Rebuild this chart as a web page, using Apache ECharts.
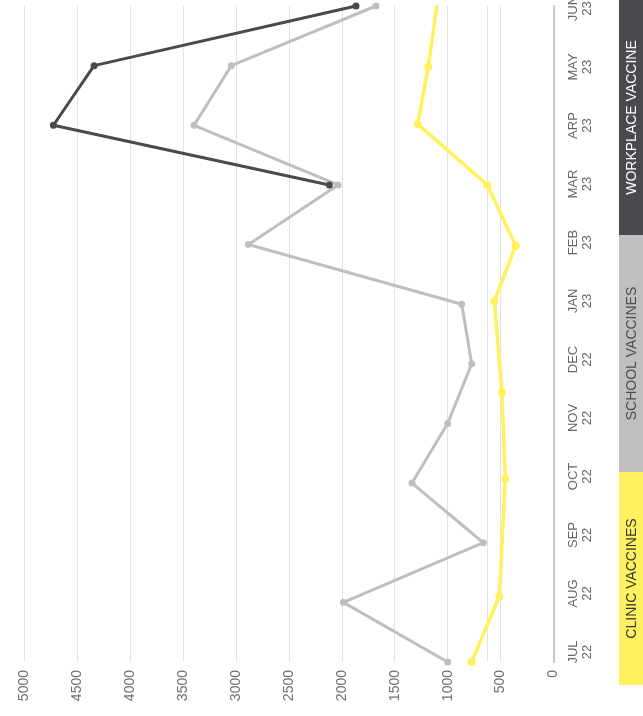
<!DOCTYPE html>
<html>
<head>
<meta charset="utf-8">
<script src="https://cdn.jsdelivr.net/npm/echarts@6/dist/echarts.min.js"></script>
<style>
  html, body { margin: 0; padding: 0; background: #ffffff; }
  #chart { width: 643px; height: 716px; }
</style>
</head>
<body>
<div id="chart"></div>
<script>
// Month labels along the timeline (JUL 22 → JUN 23)
const months = ['JUL\n22', 'AUG\n22', 'SEP\n22', 'OCT\n22', 'NOV\n22', 'DEC\n22',
                'JAN\n23', 'FEB\n23', 'MAR\n23', 'ARP\n23', 'MAY\n23', 'JUN\n23'];

// Vaccinations per month, school programme
const schoolValues = [1000, 1985, 663, 1337, 1000, 773, 867, 2883, 2036, 3396, 3044, 1677];

// Workplace programme only started in March 2023
const workplaceValues = [null, null, null, null, null, null, null, null, 2118, 4725, 4341, 1866];

// Clinic reporting dates (month index, fractional where reported mid-month) and values
const clinicPositions = [0, 1.1, 3.07, 4.52, 6.05, 6.98, 8, 9.02, 9.98, 11.02];
const clinicValues = [773, 512, 455, 487, 559, 357, 625, 1283, 1183, 1101];

// Value axis ticks
const valueTicks = [0, 500, 1000, 1500, 2000, 2500, 3000, 3500, 4000, 4500, 5000];
const referenceLevel = 625;

const COLORS = {
  clinic: '#fff25e',
  school: '#c0bfc0',
  workplace: '#4a4a4e'
};

const monthIndex = months.map((_, i) => i);
const pairs = (vals, pos) => vals.map((v, i) => [v, pos ? pos[i] : i]).filter(p => p[0] !== null);

const chart = echarts.init(document.getElementById('chart'), null, { renderer: 'canvas' });

const font = '"Liberation Sans", Arial, Helvetica, sans-serif';

const legendItems = [
  { name: 'WORKPLACE VACCINE', color: COLORS.workplace, text: '#ffffff', y: 0, h: 235 },
  { name: 'SCHOOL VACCINES', color: COLORS.school, text: '#4a4a4e', y: 235, h: 237 },
  { name: 'CLINIC VACCINES', color: COLORS.clinic, text: '#333333', y: 472, h: 213 }
];

const legendGraphics = [];
legendItems.forEach(it => {
  legendGraphics.push({
    type: 'rect',
    shape: { x: 619, y: it.y, width: 24, height: it.h },
    style: { fill: it.color },
    silent: true
  });
  legendGraphics.push({
    type: 'text',
    x: 632,
    y: it.y + it.h / 2,
    rotation: Math.PI / 2,
    style: {
      text: it.name,
      fill: it.text,
      font: '14px ' + font,
      align: 'center',
      verticalAlign: 'middle'
    },
    silent: true
  });
});

chart.setOption({
  animation: false,
  backgroundColor: '#ffffff',
  grid: { left: 24.3, right: 89.5, top: 6, bottom: 54, containLabel: false, outerBoundsMode: 'none' },
  xAxis: {
    type: 'value',
    inverse: true,
    min: valueTicks[0],
    max: valueTicks[valueTicks.length - 1],
    interval: 500,
    axisLine: { show: false },
    axisTick: { show: false },
    splitLine: { show: true, lineStyle: { color: '#e3e3e3', width: 1 } },
    axisLabel: {
      rotate: 90,
      margin: 8,
      color: '#707070',
      fontSize: 14,
      fontFamily: font,
      padding: [0, 0, 5, 0],
      formatter: v => String(v)
    }
  },
  yAxis: [
    {
      // timeline axis carrying the data
      type: 'value',
      position: 'right',
      min: 0,
      max: months.length - 1,
      interval: 1,
      axisLine: { show: true, lineStyle: { color: '#c8c8c8', width: 2 } },
      axisTick: { show: false },
      splitLine: { show: false },
      axisLabel: { show: false }
    },
    {
      // month captions, set slightly tighter than the data steps
      type: 'value',
      position: 'right',
      min: -0.171,
      max: 11.043,
      axisLine: { show: false },
      axisTick: { show: false },
      splitLine: { show: false },
      axisLabel: {
        rotate: 90,
        margin: 13,
        color: '#666666',
        fontSize: 13,
        lineHeight: 14,
        fontFamily: font,
        customValues: monthIndex,
        formatter: v => months[Math.round(v)] || ''
      }
    }
  ],
  series: [
    {
      name: 'CLINIC VACCINES',
      type: 'line',
      data: pairs(clinicValues, clinicPositions),
      symbol: 'circle',
      symbolSize: 8,
      showAllSymbol: true,
      lineStyle: { color: COLORS.clinic, width: 3.5 },
      itemStyle: { color: COLORS.clinic },
      z: 3,
      markLine: {
        silent: true,
        symbol: 'none',
        label: { show: false },
        lineStyle: { color: '#e3e3e3', width: 1, type: 'solid' },
        data: [{ xAxis: referenceLevel }],
        z: 1
      }
    },
    {
      name: 'SCHOOL VACCINES',
      type: 'line',
      data: pairs(schoolValues),
      symbol: 'circle',
      symbolSize: 7,
      showAllSymbol: true,
      lineStyle: { color: COLORS.school, width: 3 },
      itemStyle: { color: COLORS.school },
      z: 2
    },
    {
      name: 'WORKPLACE VACCINE',
      type: 'line',
      data: pairs(workplaceValues),
      symbol: 'circle',
      symbolSize: 7,
      showAllSymbol: true,
      lineStyle: { color: COLORS.workplace, width: 3 },
      itemStyle: { color: COLORS.workplace },
      z: 2
    }
  ],
  graphic: legendGraphics
});
</script>
</body>
</html>
